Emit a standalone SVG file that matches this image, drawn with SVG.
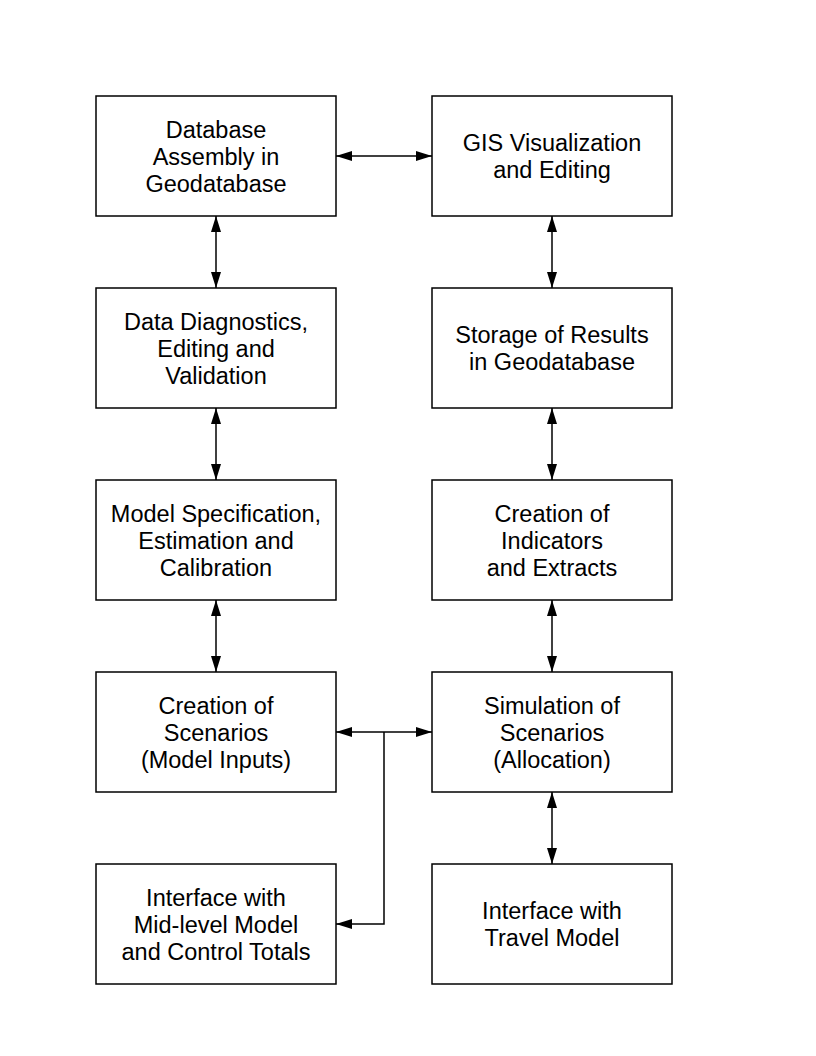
<svg xmlns="http://www.w3.org/2000/svg" width="816" height="1056" viewBox="0 0 816 1056">
<style>
.box{fill:#fff;stroke:#000;stroke-width:1.5}
.t{font-family:"Liberation Sans",Arial,sans-serif;font-size:23.5px;fill:#000;text-anchor:middle}
.c{fill:none;stroke:#000;stroke-width:1.5}
</style>
<defs>
<marker id="ah" viewBox="0 0 16 10" refX="16" refY="5" markerWidth="16" markerHeight="10" markerUnits="userSpaceOnUse" orient="auto-start-reverse">
<path d="M0,0 L16,5 L0,10 Z" fill="#000"/>
</marker>
</defs>
<rect width="816" height="1056" fill="#fff"/>
<g id="n1"><rect class="box" x="96" y="96" width="240" height="120"/><text class="t" x="216" y="138">Database</text><text class="t" x="216" y="165">Assembly in</text><text class="t" x="216" y="192">Geodatabase</text></g>
<g id="n2"><rect class="box" x="432" y="96" width="240" height="120"/><text class="t" x="552" y="151">GIS Visualization</text><text class="t" x="552" y="178">and Editing</text></g>
<g id="n3"><rect class="box" x="96" y="288" width="240" height="120"/><text class="t" x="216" y="330">Data Diagnostics,</text><text class="t" x="216" y="357">Editing and</text><text class="t" x="216" y="384">Validation</text></g>
<g id="n4"><rect class="box" x="432" y="288" width="240" height="120"/><text class="t" x="552" y="343">Storage of Results</text><text class="t" x="552" y="370">in Geodatabase</text></g>
<g id="n5"><rect class="box" x="96" y="480" width="240" height="120"/><text class="t" x="216" y="522">Model Specification,</text><text class="t" x="216" y="549">Estimation and</text><text class="t" x="216" y="576">Calibration</text></g>
<g id="n6"><rect class="box" x="432" y="480" width="240" height="120"/><text class="t" x="552" y="522">Creation of</text><text class="t" x="552" y="549">Indicators</text><text class="t" x="552" y="576">and Extracts</text></g>
<g id="n7"><rect class="box" x="96" y="672" width="240" height="120"/><text class="t" x="216" y="714">Creation of</text><text class="t" x="216" y="741">Scenarios</text><text class="t" x="216" y="768">(Model Inputs)</text></g>
<g id="n8"><rect class="box" x="432" y="672" width="240" height="120"/><text class="t" x="552" y="714">Simulation of</text><text class="t" x="552" y="741">Scenarios</text><text class="t" x="552" y="768">(Allocation)</text></g>
<g id="n9"><rect class="box" x="96" y="864" width="240" height="120"/><text class="t" x="216" y="906">Interface with</text><text class="t" x="216" y="933">Mid-level Model</text><text class="t" x="216" y="960">and Control Totals</text></g>
<g id="n10"><rect class="box" x="432" y="864" width="240" height="120"/><text class="t" x="552" y="919">Interface with</text><text class="t" x="552" y="946">Travel Model</text></g>
<g id="connectors">
<line class="c" x1="336" y1="156" x2="432" y2="156" marker-start="url(#ah)" marker-end="url(#ah)"/>
<line class="c" x1="216" y1="216" x2="216" y2="288" marker-start="url(#ah)" marker-end="url(#ah)"/>
<line class="c" x1="216" y1="408" x2="216" y2="480" marker-start="url(#ah)" marker-end="url(#ah)"/>
<line class="c" x1="216" y1="600" x2="216" y2="672" marker-start="url(#ah)" marker-end="url(#ah)"/>
<line class="c" x1="552" y1="216" x2="552" y2="288" marker-start="url(#ah)" marker-end="url(#ah)"/>
<line class="c" x1="552" y1="408" x2="552" y2="480" marker-start="url(#ah)" marker-end="url(#ah)"/>
<line class="c" x1="552" y1="600" x2="552" y2="672" marker-start="url(#ah)" marker-end="url(#ah)"/>
<line class="c" x1="552" y1="792" x2="552" y2="864" marker-start="url(#ah)" marker-end="url(#ah)"/>
<line class="c" x1="336" y1="732" x2="432" y2="732" marker-start="url(#ah)" marker-end="url(#ah)"/>
<polyline class="c" points="384,732 384,924 336,924" marker-end="url(#ah)"/>
</g>
</svg>
